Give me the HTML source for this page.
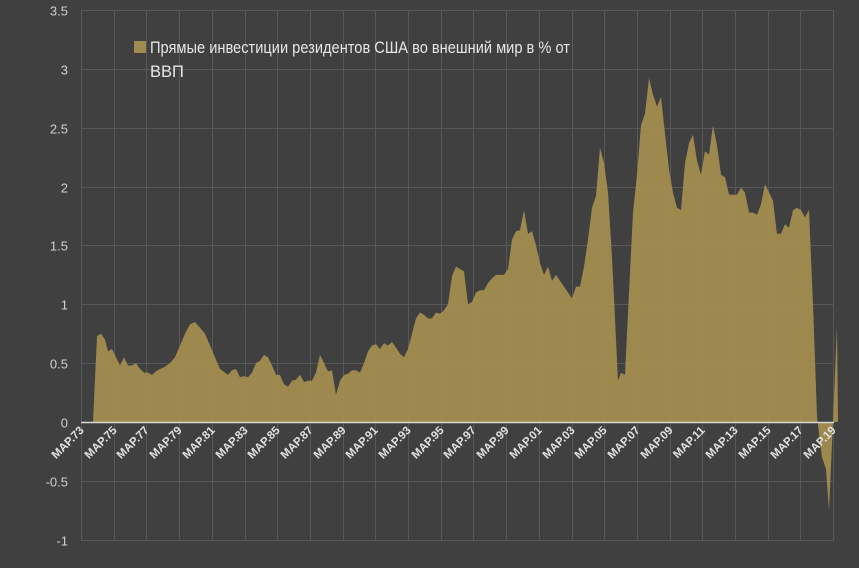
<!DOCTYPE html>
<html><head><meta charset="utf-8"><style>
html,body{margin:0;padding:0;background:#404040;}
svg{display:block}
</style></head><body>
<svg id="s" width="859" height="568" xmlns="http://www.w3.org/2000/svg" font-family="Liberation Sans, DejaVu Sans, sans-serif">
<rect width="859" height="568" fill="#404040"/>
<g id="grid" stroke="#585858" stroke-width="1"></g>
<path id="area" fill="#a58e50" fill-opacity="0.93"/>
<line x1="81" y1="422.5" x2="834" y2="422.5" stroke="#d8d8d0" stroke-width="1.5"/>
<g id="ylab" fill="#cfcfcf" font-size="13" text-anchor="end"></g>
<g id="xlab" fill="#e0e0e0" font-size="11.5" font-weight="bold" text-anchor="end"></g>
<rect x="134" y="41" width="12" height="12" fill="#a08b4f"/>
<text x="150" y="53" fill="#e6e6e6" font-size="16.5" textLength="420" lengthAdjust="spacingAndGlyphs">Прямые инвестиции резидентов США во внешний мир в %  от</text>
<text x="150" y="77" fill="#e6e6e6" font-size="16.5">ВВП</text>
</svg>
<script>
var NS="http://www.w3.org/2000/svg";
function Y(v){return 422-117.7*v;}
var g=document.getElementById('grid');
for(var i=0;i<=9;i++){var v=3.5-0.5*i;var y=Math.round(Y(v))+0.5;var l=document.createElementNS(NS,'line');l.setAttribute('x1',81);l.setAttribute('x2',834);l.setAttribute('y1',y);l.setAttribute('y2',y);g.appendChild(l);
var t=document.createElementNS(NS,'text');t.setAttribute('x',68);t.setAttribute('y',y+5);t.textContent=(Math.round(v*10)/10).toString();document.getElementById('ylab').appendChild(t);}
for(var k=0;k<=23;k++){var x=Math.round(81+k*32.7)+0.5;var l=document.createElementNS(NS,'line');l.setAttribute('x1',x);l.setAttribute('x2',x);l.setAttribute('y1',10);l.setAttribute('y2',540);g.appendChild(l);
var yr=(73+2*k)%100;var s=(yr<10?'0':'')+yr;var t=document.createElementNS(NS,'text');t.setAttribute('transform','translate('+(x+3)+',431) rotate(-45)');t.textContent='MAP.'+s;document.getElementById('xlab').appendChild(t);}
var d=[81,0,93,0,97,0.73,101,0.75,105,0.7,108,0.6,112,0.62,116,0.55,120,0.48,124,0.55,128,0.48,132,0.48,136,0.5,140,0.45,144,0.42,148,0.42,152,0.4,156,0.43,160,0.45,165,0.47,170,0.5,175,0.55,180,0.65,185,0.75,190,0.83,195,0.85,200,0.8,205,0.75,210,0.65,215,0.55,220,0.45,225,0.42,228,0.4,232,0.44,236,0.45,240,0.38,244,0.39,248,0.38,252,0.42,256,0.5,260,0.52,264,0.57,268,0.55,272,0.48,276,0.4,280,0.4,284,0.32,288,0.3,292,0.35,296,0.36,300,0.4,304,0.34,308,0.35,312,0.35,316,0.42,320,0.57,324,0.5,328,0.43,332,0.44,336,0.23,340,0.35,344,0.4,348,0.41,352,0.44,356,0.44,360,0.42,364,0.5,368,0.6,372,0.65,376,0.66,380,0.62,384,0.67,388,0.65,392,0.68,396,0.63,400,0.58,404,0.55,408,0.62,412,0.75,416,0.88,420,0.93,424,0.91,428,0.88,432,0.88,436,0.93,440,0.92,444,0.95,448,1.0,452,1.24,456,1.32,460,1.3,464,1.28,468,1.0,472,1.02,476,1.1,480,1.12,484,1.12,488,1.18,492,1.22,496,1.25,500,1.25,504,1.25,508,1.3,512,1.55,516,1.62,520,1.63,524,1.8,528,1.6,532,1.62,536,1.5,540,1.35,544,1.25,548,1.32,552,1.2,556,1.25,560,1.2,564,1.15,568,1.1,572,1.05,576,1.15,580,1.15,584,1.32,588,1.55,592,1.82,596,1.92,600,2.33,604,2.2,608,1.95,612,1.4,616,0.7,618,0.35,621,0.42,625,0.4,629,1.1,633,1.78,637,2.1,641,2.52,645,2.62,649,2.92,653,2.78,657,2.68,661,2.76,665,2.45,669,2.15,673,1.95,677,1.82,681,1.8,685,2.2,689,2.37,693,2.44,697,2.22,701,2.1,705,2.3,709,2.27,713,2.52,717,2.35,721,2.1,725,2.08,729,1.93,733,1.93,737,1.93,741,1.99,745,1.95,749,1.78,753,1.78,757,1.76,761,1.85,765,2.02,769,1.95,773,1.88,777,1.6,781,1.6,785,1.68,789,1.65,793,1.8,797,1.82,801,1.8,805,1.74,809,1.8,813,1.0,817,0.05,819,-0.1,822,-0.3,826,-0.4,829,-0.75,833,0,837,0.82,838,0];
var p='M81,422';for(var i=0;i<d.length;i+=2){p+=' L'+d[i]+','+Y(d[i+1]).toFixed(1);}p+=' Z';
document.getElementById('area').setAttribute('d',p);
</script>
</body></html>
